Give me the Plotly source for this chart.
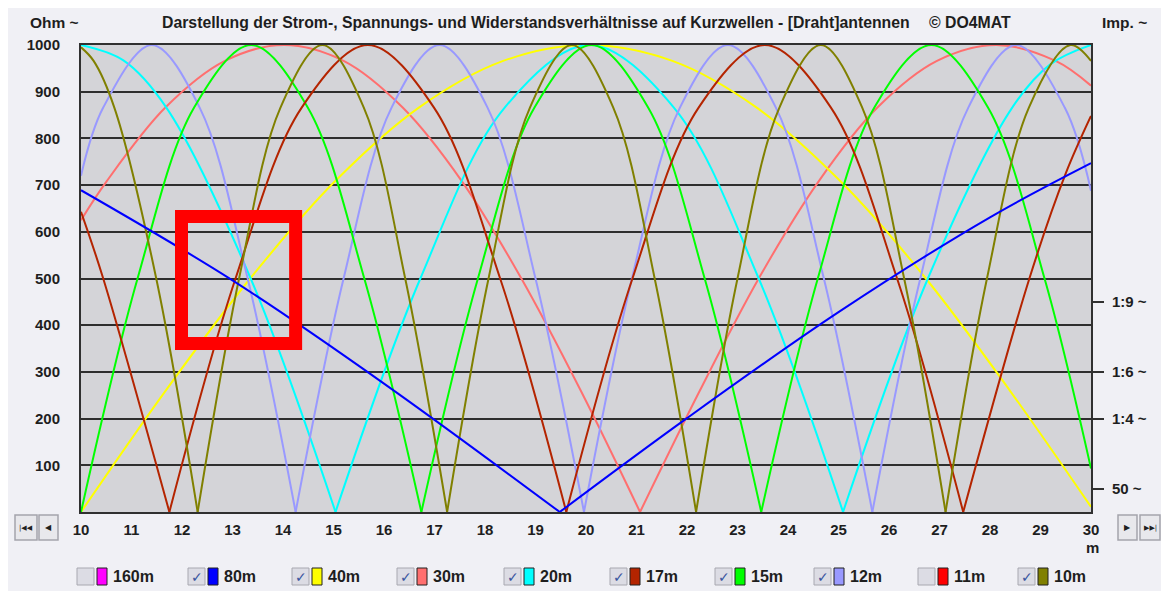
import plotly.graph_objects as go

# ---------------- data ----------------
bands = ["160m", "80m", "40m", "30m", "20m", "17m", "15m", "12m", "11m", "10m"]
band_colors = ["#ff00ff", "#0000ff", "#ffff00", "#ff6f6f", "#00ffff",
               "#b42400", "#00ff00", "#9999ff", "#ff0000", "#808000"]
band_checked = [False, True, True, True, True, True, True, True, False, True]

x_ticks = list(range(10, 31))
y_ticks = [100, 200, 300, 400, 500, 600, 700, 800, 900, 1000]
swr_vals = [50, 200, 300, 450]
swr_text = ["50 ~", "1:4 ~", "1:6 ~", "1:9 ~"]

x_80m = [10.00, 13.00, 16.00, 19.48, 22.00, 25.00, 28.00, 30.00]
y_80m = [689, 496, 275, 0, 201, 428, 631, 747]

x_40m = [10.00, 11.67, 13.35, 15.02, 16.69, 18.36, 20.04, 21.71, 23.38, 25.05, 26.73, 28.40, 30.00]
y_40m = [0, 259, 500, 707, 866, 966, 1000, 966, 866, 707, 500, 259, 11]

x_30m = [10.00, 10.50, 11.67, 12.85, 14.02, 15.20, 16.37, 17.55, 18.72, 19.90, 21.07,
         22.25, 23.42, 24.60, 25.77, 26.95, 28.12, 29.30, 30.00]
y_30m = [625, 707, 866, 966, 1000, 966, 866, 707, 500, 259, 0,
         259, 500, 707, 866, 966, 1000, 966, 913]

x_20m = [10.00, 10.84, 11.69, 13.36, 15.04, 16.72, 18.39, 20.07, 21.74, 23.42, 25.09,
         26.77, 28.44, 29.20, 30.00]
y_20m = [1000, 967, 866, 500, 0, 500, 866, 1000, 866, 500, 0, 500, 866, 959, 1000]

x_17m = [10.00, 10.44, 11.75, 13.06, 14.37, 15.68, 16.99, 18.30, 19.61, 20.92, 22.23,
         23.54, 24.85, 26.16, 27.47, 28.78, 29.50, 30.00]
y_17m = [643, 500, 0, 500, 866, 1000, 866, 500, 0, 500, 866,
         1000, 866, 500, 0, 500, 725, 848]

x_15m = [10.00, 11.12, 12.24, 13.37, 14.49, 15.61, 16.74, 17.86, 18.98, 20.11, 21.23,
         22.35, 23.47, 24.59, 25.71, 26.84, 27.96, 29.08, 30.00]
y_15m = [0, 500, 866, 1000, 866, 500, 0, 500, 866, 1000, 866,
         500, 0, 500, 866, 1000, 866, 500, 93]

x_12m = [10.00, 10.44, 11.40, 12.35, 13.30, 14.25, 15.20, 16.15, 17.10, 18.05, 19.00,
         19.96, 20.91, 21.86, 22.81, 23.76, 24.71, 25.67, 26.62, 27.57, 28.52, 29.48, 30.00]
y_12m = [720, 866, 1000, 866, 500, 0, 500, 866, 1000, 866, 500,
         0, 500, 866, 1000, 866, 500, 0, 500, 866, 1000, 866, 688]

x_10m = [10.00, 10.25, 10.66, 11.49, 12.31, 13.13, 13.95, 14.78, 15.60, 16.42, 17.25,
         18.07, 18.89, 19.72, 20.54, 21.36, 22.18, 23.00, 23.83, 24.65, 25.47, 26.30,
         27.12, 27.94, 28.77, 29.59, 30.00]
y_10m = [995, 966, 866, 500, 0, 500, 866, 1000, 866, 500, 0,
         500, 866, 1000, 866, 500, 0, 500, 866, 1000, 866, 500,
         0, 500, 866, 1000, 966]

# highlighted region (red frame) in data units
mark_x = [11.99, 14.25]
mark_y = [361, 633]

series = {
    "30m": (x_30m, y_30m),
    "40m": (x_40m, y_40m),
    "20m": (x_20m, y_20m),
    "12m": (x_12m, y_12m),
    "15m": (x_15m, y_15m),
    "17m": (x_17m, y_17m),
    "10m": (x_10m, y_10m),
    "80m": (x_80m, y_80m),
}

# ---------------- layout geometry ----------------
OFF = 8                      # page body margin of the html page
W, H = 1169 - OFF, 591 - OFF
L, R, T, B = 73, 78, 37, 79
PW, PH = W - L - R, H - T - B


def px(xs):
    """screen x pixel -> paper coordinate"""
    return (xs - OFF - L) / PW


def py(ys):
    """screen y pixel -> paper coordinate"""
    return (H - B - (ys - OFF)) / PH


def split_at_zeros(xs, ys):
    ox, oy = [], []
    n = len(xs)
    for i, (x, y) in enumerate(zip(xs, ys)):
        ox.append(x)
        oy.append(y)
        if y == 0 and 0 < i < n - 1:
            ox += [None, x]
            oy += [None, y]
    return ox, oy


color_of = dict(zip(bands, band_colors))

fig = go.Figure()
for name, (xs, ys) in series.items():
    sx, sy = split_at_zeros(xs, ys)
    fig.add_trace(go.Scatter(
        x=sx, y=sy, name=name, mode="lines",
        yaxis="y2" if name == "80m" else "y",
        line=dict(color=color_of[name], width=2, shape="spline", smoothing=1.0),
        connectgaps=False, showlegend=False, hoverinfo="x+y+name",
    ))

FONT = "Arial, 'Liberation Sans', sans-serif"
TXT = "#1e1e1e"

shapes = []
annotations = []

# red highlight frame
shapes.append(dict(type="rect", xref="x", yref="y",
                   x0=mark_x[0], x1=mark_x[1], y0=mark_y[0], y1=mark_y[1],
                   line=dict(color="#ff0000", width=13), fillcolor="rgba(0,0,0,0)"))

# title texts
annotations.append(dict(xref="paper", yref="paper", x=px(160), y=py(22), xanchor="left",
                        yanchor="middle", showarrow=False,
                        text="Darstellung der Strom-, Spannungs- und Widerstandsverhältnisse auf Kurzwellen - [Draht]antennen",
                        font=dict(family=FONT, size=15.8, color=TXT, weight="bold")))
annotations.append(dict(xref="paper", yref="paper", x=px(927), y=py(22), xanchor="left",
                        yanchor="middle", showarrow=False, text="© DO4MAT",
                        font=dict(family=FONT, size=15.8, color=TXT, weight="bold")))
annotations.append(dict(xref="paper", yref="paper", x=px(28), y=py(22), xanchor="left",
                        yanchor="middle", showarrow=False, text="Ohm ~",
                        font=dict(family=FONT, size=15.5, color=TXT, weight="bold")))
annotations.append(dict(xref="paper", yref="paper", x=px(1100), y=py(22), xanchor="left",
                        yanchor="middle", showarrow=False, text="Imp. ~",
                        font=dict(family=FONT, size=15.5, color=TXT, weight="bold")))
annotations.append(dict(xref="paper", yref="paper", x=px(1092), y=py(547), xanchor="center",
                        yanchor="middle", showarrow=False, text="m",
                        font=dict(family=FONT, size=15, color=TXT, weight="bold")))

# navigation buttons
nav = [(15, 37, "|◀◀"), (39, 58, "◀"), (1118, 1137, "▶"), (1140, 1160, "▶▶|")]
for x0, x1, sym in nav:
    shapes.append(dict(type="rect", xref="paper", yref="paper",
                       x0=px(x0), x1=px(x1), y0=py(540), y1=py(515),
                       fillcolor="#e8e8ec", line=dict(color="#a4a4ac", width=1.5)))
    annotations.append(dict(xref="paper", yref="paper", x=px((x0 + x1) / 2), y=py(527.5),
                            xanchor="center", yanchor="middle", showarrow=False, text=sym,
                            font=dict(family="DejaVu Sans", size=7 if len(sym) > 1 else 8,
                                      color="#202020")))

# custom legend with check boxes
legend_left = [77, 188, 292, 397, 504, 610, 715, 814, 918, 1018]
for name, col, chk, lx in zip(bands, band_colors, band_checked, legend_left):
    shapes.append(dict(type="rect", xref="paper", yref="paper",
                       x0=px(lx), x1=px(lx + 17), y0=py(585), y1=py(568),
                       fillcolor="#dcdce4", line=dict(color="#a8a8b0", width=1)))
    shapes.append(dict(type="rect", xref="paper", yref="paper",
                       x0=px(lx + 20), x1=px(lx + 30), y0=py(585), y1=py(568),
                       fillcolor=col, line=dict(color="#202020", width=1)))
    if chk:
        annotations.append(dict(xref="paper", yref="paper", x=px(lx + 9), y=py(576.5),
                                xanchor="center", yanchor="middle", showarrow=False, text="✓",
                                font=dict(family="DejaVu Sans", size=14, color="#3a55a0")))
    annotations.append(dict(xref="paper", yref="paper", x=px(lx + 34), y=py(576.5),
                            xanchor="left", yanchor="middle", showarrow=False, text=name,
                            font=dict(family=FONT, size=16, color=TXT, weight="bold")))

fig.update_layout(
    width=W, height=H,
    margin=dict(l=L, r=R, t=T, b=B, pad=0),
    paper_bgcolor="#f0f0f5",
    plot_bgcolor="#d4d4d8",
    showlegend=False,
    shapes=shapes,
    annotations=annotations,
    xaxis=dict(range=[10, 30], tickvals=x_ticks, showgrid=False, zeroline=False,
               showline=True, mirror=True, linecolor="#303030", linewidth=2,
               ticks="", ticklabelstandoff=3, fixedrange=True,
               tickfont=dict(family=FONT, size=15, color=TXT, weight="bold")),
    yaxis=dict(range=[0, 1000], tickvals=y_ticks, showgrid=True, gridcolor="#2e2e2e",
               gridwidth=1.5, zeroline=False, showline=True, mirror=True,
               linecolor="#303030", linewidth=2, ticks="", ticklabelstandoff=16,
               fixedrange=True,
               tickfont=dict(family=FONT, size=15, color=TXT, weight="bold")),
    yaxis2=dict(range=[0, 1000], overlaying="y", side="right", anchor="x",
                tickvals=swr_vals, ticktext=swr_text, ticks="outside", ticklen=12,
                tickwidth=2, tickcolor="#303030", showgrid=False, zeroline=False,
                showline=False, fixedrange=True, ticklabelstandoff=5,
                tickfont=dict(family=FONT, size=15, color=TXT, weight="bold")),
)

fig.write_html("out.html")
